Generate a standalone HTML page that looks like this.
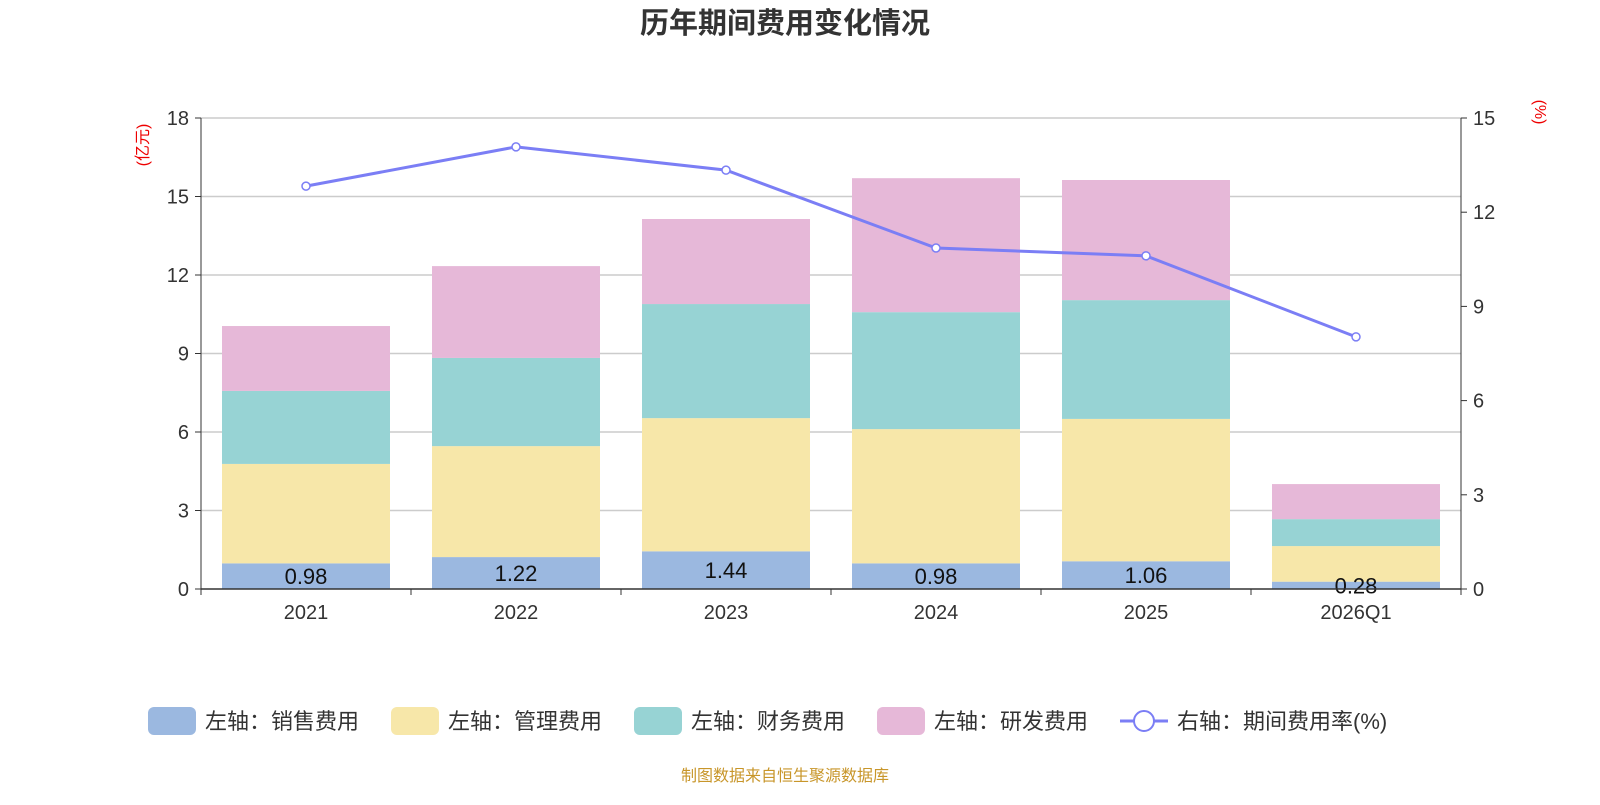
<!DOCTYPE html>
<html><head><meta charset="utf-8">
<style>
body{margin:0;background:#fff;font-family:"Liberation Sans","Noto Sans CJK SC",sans-serif;}
svg text{font-family:"Liberation Sans","Noto Sans CJK SC",sans-serif;}
</style></head>
<body>
<svg id="chart" width="1600" height="800" xmlns="http://www.w3.org/2000/svg">
<text x="785" y="33" text-anchor="middle" font-size="29" font-weight="bold" fill="#333">历年期间费用变化情况</text>
<text transform="translate(148,145) rotate(-90)" text-anchor="middle" font-size="16" fill="#e00">(亿元)</text>
<text transform="translate(1535,112) rotate(90)" text-anchor="middle" font-size="16" fill="#e00">(%)</text>
<g id="grid"></g><g id="bars"></g><g id="line"></g><g id="axes"></g>
<g font-size="22" fill="#333">
<g><rect x="148" y="707" width="48" height="28" rx="6" fill="#9bb8e0"/><text x="205" y="729">左轴：销售费用</text></g>
<g><rect x="391" y="707" width="48" height="28" rx="6" fill="#f7e7a9"/><text x="448" y="729">左轴：管理费用</text></g>
<g><rect x="634" y="707" width="48" height="28" rx="6" fill="#97d3d4"/><text x="691" y="729">左轴：财务费用</text></g>
<g><rect x="877" y="707" width="48" height="28" rx="6" fill="#e6b8d8"/><text x="934" y="729">左轴：研发费用</text></g>
<g><line x1="1120" y1="721" x2="1168" y2="721" stroke="#7b7ef5" stroke-width="3"/><circle cx="1144" cy="721" r="10" fill="#fff" stroke="#7b7ef5" stroke-width="2"/><text x="1177" y="729">右轴：期间费用率(%)</text></g>
</g>
<text x="785" y="781" text-anchor="middle" font-size="16" fill="#c8962a">制图数据来自恒生聚源数据库</text>
</svg>
<script>
const categories=["2021","2022","2023","2024","2025","2026Q1"];
const sales=[0.98,1.22,1.44,0.98,1.06,0.28];
const management=[3.80,4.24,5.09,5.13,5.44,1.36];
const finance=[2.79,3.37,4.36,4.47,4.54,1.03];
const rd=[2.48,3.51,3.25,5.12,4.59,1.34];
const rate=[12.83,14.08,13.34,10.86,10.61,8.03];
const leftTicks=[0,3,6,9,12,15,18];
const rightTicks=[0,3,6,9,12,15];
const NS="http://www.w3.org/2000/svg";
const X0=201,X1=1461,Y0=589,Y1=118;
const yL=v=>Y0-(v/18)*(Y0-Y1);
const yR=v=>Y0-(v/15)*(Y0-Y1);
const bw=(X1-X0)/categories.length;
const xc=i=>X0+bw*(i+0.5);
function mk(t,a,p){const e=document.createElementNS(NS,t);for(const k in a)e.setAttribute(k,a[k]);p.appendChild(e);return e;}
const grid=document.getElementById('grid'),axes=document.getElementById('axes'),bars=document.getElementById('bars'),line=document.getElementById('line');
leftTicks.forEach(v=>{
 if(v>0){const g=mk('line',{x1:X0,x2:X1,y1:yL(v),y2:yL(v),stroke:'#ccc','stroke-width':1.5},grid);
 
 }
 mk('line',{x1:X0-6,x2:X0,y1:yL(v),y2:yL(v),stroke:'#333'},axes);
 const t=mk('text',{x:X0-12,y:yL(v)+7,'text-anchor':'end','font-size':20,fill:'#333'},axes);t.textContent=v;
 
 
});
rightTicks.forEach(v=>{
 mk('line',{x1:X1,x2:X1+6,y1:yR(v),y2:yR(v),stroke:'#333'},axes);
 const t=mk('text',{x:X1+12,y:yR(v)+7,'font-size':20,fill:'#333'},axes);t.textContent=v;
 
 
});
mk('line',{x1:X0,x2:X0,y1:Y1,y2:Y0,stroke:'#333'},axes);
mk('line',{x1:X1,x2:X1,y1:Y1,y2:Y0,stroke:'#333'},axes);
mk('line',{x1:X0,x2:X1,y1:Y0,y2:Y0,stroke:'#333','stroke-width':1.5},axes);
for(let i=0;i<=categories.length;i++)mk('line',{x1:X0+bw*i,x2:X0+bw*i,y1:Y0,y2:Y0+6,stroke:'#333'},axes);
const series=[[sales,'#9bb8e0','bar-sales'],[management,'#f7e7a9','bar-management'],[finance,'#97d3d4','bar-finance'],[rd,'#e6b8d8','bar-rd']];
categories.forEach((c,i)=>{
 let base=0;
 series.forEach(([arr,col,nm])=>{
  const r=mk('rect',{x:xc(i)-84,width:168,y:yL(base+arr[i]),height:yL(base)-yL(base+arr[i]),fill:col},bars);
  
  
  base+=arr[i];
 });
 const l=mk('text',{x:xc(i),y:yL(sales[i]/2)+8,'text-anchor':'middle','font-size':22,fill:'#111'},bars);l.textContent=sales[i].toFixed(2);
 
 
 const t=mk('text',{x:xc(i),y:Y0+30,'text-anchor':'middle','font-size':20,fill:'#333'},axes);t.textContent=c;
 
 
});
const pl=mk('polyline',{points:rate.map((v,i)=>xc(i)+','+yR(v)).join(' '),fill:'none',stroke:'#7b7ef5','stroke-width':3},line);


rate.forEach((v,i)=>{const p=mk('circle',{cx:xc(i),cy:yR(v),r:4,fill:'#fff',stroke:'#7b7ef5','stroke-width':1.5},line);
 
 });
</script>
</body></html>
